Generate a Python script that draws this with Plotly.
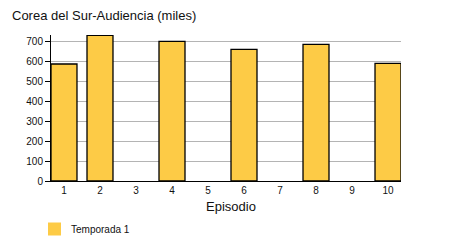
import plotly.graph_objects as go

episodes = [1, 2, 3, 4, 5, 6, 7, 8, 9, 10]
audience = [585, 728, None, 698, None, 658, None, 683, None, 588]
series_name = "Temporada 1"
title_text = "Corea del Sur-Audiencia (miles)"
x_title = "Episodio"
y_ticks = [0, 100, 200, 300, 400, 500, 600, 700]

W, H = 450, 250
ml, mr, mt, mb = 51, 49, 35, 69
pw, ph = W - ml - mr, H - mt - mb

def px(x):
    return (x - ml) / pw

def py(y):
    return (H - mb - y) / ph

FONT = "Liberation Sans, Arial, sans-serif"
BAR = "#FDCB46"

fig = go.Figure()
fig.add_trace(go.Bar(
    x=episodes, y=audience, name=series_name, width=0.722,
    marker=dict(color=BAR, line=dict(color="#000000", width=1.3)),
    showlegend=False,
))

fig.update_layout(
    width=W, height=H,
    margin=dict(l=ml, r=mr, t=mt, b=mb, pad=0),
    paper_bgcolor="white", plot_bgcolor="white",
    font=dict(family=FONT, size=10, color="#111111"),
    xaxis=dict(
        range=[0.639, 10.361], tickmode="array", tickvals=episodes,
        ticktext=[str(e) for e in episodes],
        showgrid=False, zeroline=False, showline=True, linecolor="#000000",
        linewidth=1, ticks="", tickfont=dict(size=10, color="#111111"),
        ticklabelstandoff=0,
    ),
    yaxis=dict(
        range=[0, 730], tickmode="array", tickvals=y_ticks,
        showgrid=True, gridcolor="#b4b4b4", gridwidth=1,
        zeroline=False, showline=True, linecolor="#000000", linewidth=1,
        ticks="outside", ticklen=5, tickcolor="#000000", tickwidth=1,
        tickfont=dict(size=10, color="#111111"),
    ),
    showlegend=False,
)

fig.add_annotation(
    text=title_text, xref="paper", yref="paper", x=px(10), y=py(16),
    xanchor="left", yanchor="middle", showarrow=False,
    font=dict(family=FONT, size=13, color="#111111"),
)
fig.add_annotation(
    text=x_title, xref="paper", yref="paper", x=px(231), y=py(206),
    xanchor="center", yanchor="middle", showarrow=False,
    font=dict(family=FONT, size=13, color="#111111"),
)
fig.add_shape(
    type="rect", xref="paper", yref="paper",
    x0=px(48), x1=px(61), y0=py(235.5), y1=py(222.5),
    fillcolor=BAR, line=dict(width=0),
)
fig.add_annotation(
    text=series_name, xref="paper", yref="paper", x=px(69), y=py(229.5),
    xanchor="left", yanchor="middle", showarrow=False,
    font=dict(family=FONT, size=10, color="#111111"),
)

fig.write_html("out.html")
